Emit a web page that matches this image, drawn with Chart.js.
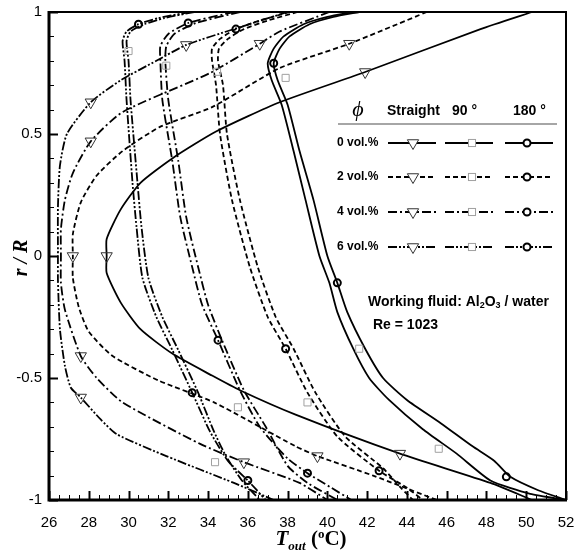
<!DOCTYPE html>
<html>
<head>
<meta charset="utf-8">
<title>Outlet temperature profiles</title>
<script src="https://cdn.jsdelivr.net/npm/chart.js@4.4.0/dist/chart.umd.min.js"></script>
<style>
  html, body { margin: 0; padding: 0; background: #fff; }
  #wrap { width: 575px; height: 550px; }
</style>
</head>
<body>
<div id="wrap"><canvas id="tempChart" width="575" height="550"></canvas></div>
<script>
// Outlet temperature profiles T_out vs r/R, Al2O3 / water, Re = 1023
// Each profile is a list of [T (degC), r/R] pairs

// Straight pipe
const straight0 = [[50.3,1],[47.7,0.93],[41.9,0.754],[37.6,0.63],[34.4,0.51],[32.2,0.40],[30.6,0.30],[29.6,0.19],[28.9,0.07],[28.9,0],[28.9,-0.07],[29.6,-0.19],[30.6,-0.30],[32.2,-0.40],[34.2,-0.49],[35.6,-0.55],[38.4,-0.65],[43.65,-0.81],[48.2,-0.93],[50.3,-1]];
const straight2 = [[45.0,1],[41.1,0.87],[37.6,0.77],[34.2,0.61],[31.6,0.53],[29.7,0.43],[28.4,0.33],[27.6,0.22],[27.2,0.09],[27.2,0],[27.2,-0.09],[27.5,-0.21],[28.0,-0.31],[29.2,-0.41],[31.5,-0.51],[34.3,-0.60],[38.4,-0.78],[39.5,-0.82],[42.3,-0.90],[45.5,-1]];
const straight4 = [[40.1,1],[37.6,0.92],[36.6,0.87],[34.1,0.75],[29.7,0.59],[28.1,0.47],[27.2,0.34],[26.8,0.23],[26.6,0.11],[26.6,0],[26.6,-0.11],[26.8,-0.22],[27.6,-0.41],[28.4,-0.50],[29.7,-0.60],[33.6,-0.77],[35.8,-0.845],[38.6,-0.93],[40.0,-1]];
const straight6 = [[38.0,1],[35.3,0.93],[32.9,0.865],[31.4,0.80],[29.6,0.72],[28.1,0.63],[26.9,0.50],[26.55,0.37],[26.45,0.2],[26.45,0],[26.45,-0.1],[26.55,-0.3],[26.8,-0.45],[27.1,-0.54],[27.6,-0.58],[28.6,-0.67],[29.4,-0.73],[31.9,-0.82],[35.3,-0.93],[37.3,-1]];

// 90 degree bend
const bend90_0 = [[41.3,1],[40.0,0.98],[38.8,0.95],[37.8,0.9],[37.3,0.85],[37.0,0.79],[37.2,0.72],[37.7,0.62],[38.3,0.43],[38.9,0.23],[39.6,0.0],[40.1,-0.11],[40.5,-0.23],[41.3,-0.38],[42.1,-0.50],[43.1,-0.59],[44.8,-0.71],[46.5,-0.81],[48.2,-0.92],[50.2,-0.975],[52.0,-1]];
const bend90_2 = [[38.5,1],[37.0,0.965],[35.8,0.93],[35.0,0.89],[34.55,0.85],[34.5,0.80],[34.75,0.70],[34.95,0.50],[35.6,0.23],[36.5,-0.045],[37.4,-0.25],[38.3,-0.38],[39.4,-0.56],[40.9,-0.74],[42.8,-0.87],[43.7,-0.95],[44.3,-1]];
const bend90_4 = [[35.6,1],[33.4,0.955],[32.3,0.91],[31.9,0.86],[31.85,0.80],[32.0,0.64],[32.5,0.39],[32.9,0.16],[33.5,-0.045],[34.0,-0.2],[34.7,-0.345],[35.8,-0.55],[36.9,-0.70],[38.0,-0.86],[39.0,-0.93],[40.5,-1]];
const bend90_6 = [[33.3,1],[31.8,0.975],[30.8,0.95],[30.1,0.92],[29.9,0.88],[30.0,0.80],[30.1,0.64],[30.45,0.30],[30.65,0.12],[31.0,-0.09],[31.7,-0.25],[32.5,-0.385],[33.5,-0.56],[34.3,-0.72],[34.9,-0.82],[35.7,-0.92],[36.6,-1]];

// 180 degree bend
const bend180_0 = [[41.6,1],[40.3,0.98],[39.1,0.95],[38.1,0.9],[37.6,0.85],[37.3,0.79],[37.5,0.72],[38.0,0.62],[38.6,0.43],[39.3,0.23],[40.0,0.0],[40.5,-0.11],[41.0,-0.23],[41.9,-0.38],[42.8,-0.50],[44.0,-0.59],[45.7,-0.685],[47.3,-0.78],[48.4,-0.84],[49.2,-0.905],[50.6,-0.96],[52.0,-1]];
const bend180_2 = [[38.1,1],[36.6,0.965],[35.4,0.93],[34.6,0.89],[34.2,0.85],[34.2,0.80],[34.4,0.70],[34.6,0.50],[35.2,0.23],[36.1,-0.045],[37.0,-0.25],[37.9,-0.38],[39.0,-0.56],[40.5,-0.74],[42.6,-0.88],[44.0,-0.95],[44.8,-1]];
const bend180_4 = [[35.3,1],[33.0,0.955],[32.0,0.91],[31.6,0.86],[31.6,0.80],[31.7,0.64],[32.2,0.39],[32.6,0.16],[33.2,-0.045],[33.7,-0.2],[34.5,-0.345],[35.6,-0.55],[36.6,-0.70],[38.0,-0.83],[39.0,-0.89],[40.2,-0.95],[41.2,-1]];
const bend180_6 = [[33.1,1],[31.5,0.975],[30.5,0.95],[29.9,0.92],[29.7,0.88],[29.8,0.80],[29.9,0.64],[30.2,0.30],[30.4,0.12],[30.7,-0.09],[31.4,-0.25],[32.2,-0.385],[33.2,-0.56],[34.1,-0.72],[35.0,-0.84],[36.0,-0.92],[36.9,-1]];

// Symbol positions (one symbol every few grid points)
const straightMarks = [[41.9,0.754],[28.9,0],[43.65,-0.81],[41.1,0.87],[27.2,0],[39.5,-0.82],[36.6,0.87],[28.1,0.47],[27.6,-0.41],[35.8,-0.845],[32.9,0.865],[28.1,0.63],[27.6,-0.58]];
const bend90Marks = [[37.9,0.73],[41.6,-0.38],[45.6,-0.79],[34.45,0.755],[39.0,-0.60],[31.9,0.78],[35.5,-0.62],[30.0,0.84],[34.35,-0.845]];
const bend180Marks = [[37.3,0.79],[40.5,-0.11],[49.0,-0.905],[35.4,0.93],[37.9,-0.38],[42.6,-0.88],[33.0,0.955],[34.5,-0.345],[39.0,-0.89],[30.5,0.95],[33.2,-0.56],[36.0,-0.92]];

const concentrations = ['0 vol.%', '2 vol.%', '4 vol.%', '6 vol.%'];
const xTicks = { min: 26, max: 52, step: 2, minor: 0.5 };
const yTicks = { min: -1, max: 1, step: 0.5, minor: 0.1 };

// line style per concentration
const dashes = [[], [5, 3], [9, 3, 2, 3], [9, 2, 2, 2, 2, 2]];

const FONT = "'Liberation Sans', Arial, sans-serif";
const SERIF = "'Liberation Serif', 'Times New Roman', serif";

Chart.defaults.font.family = FONT;
Chart.defaults.color = '#000';

const toXY = (pts) => pts.map(p => ({ x: p[0], y: p[1] }));

function profile(pts, i) {
    return {
        data: toXY(pts),
        showLine: true,
        borderColor: '#000',
        borderWidth: 1.8,
        borderDash: dashes[i],
        pointRadius: 0,
        tension: 0.2,
        fill: false,
        order: 2
    };
}

function symbols(pts, style) {
    return Object.assign({
        data: toXY(pts),
        showLine: false,
        backgroundColor: 'rgba(255,255,255,0)',
        order: 0
    }, style);
}

const triStyle = { pointStyle: 'triangle', rotation: 180, pointRadius: 6.5, borderColor: '#333', borderWidth: 1 };
const sqStyle = { pointStyle: 'rect', pointRadius: 5, borderColor: '#a0a0a0', borderWidth: 1 };
const circStyle = { pointStyle: 'circle', pointRadius: 3.5, borderColor: '#000', borderWidth: 2 };

const datasets = [];
[straight0, straight2, straight4, straight6].forEach((s, i) => datasets.push(profile(s, i)));
[bend90_0, bend90_2, bend90_4, bend90_6].forEach((s, i) => datasets.push(profile(s, i)));
[bend180_0, bend180_2, bend180_4, bend180_6].forEach((s, i) => datasets.push(profile(s, i)));
datasets.push(symbols(straightMarks, triStyle));
datasets.push(symbols(bend90Marks, sqStyle));
datasets.push(symbols(bend180Marks, circStyle));

// marker helpers for the legend table
function drawMarker(ctx, kind, x, y) {
    ctx.save();
    ctx.setLineDash([]);
    ctx.fillStyle = '#fff';
    if (kind === 'tri') {
        const r = triStyle.pointRadius;
        ctx.strokeStyle = triStyle.borderColor;
        ctx.lineWidth = 1;
        ctx.beginPath();
        ctx.moveTo(x, y + r);
        ctx.lineTo(x - r * 0.866, y - r / 2);
        ctx.lineTo(x + r * 0.866, y - r / 2);
        ctx.closePath();
        ctx.fill();
        ctx.stroke();
    } else if (kind === 'sq') {
        const h = sqStyle.pointRadius / Math.SQRT2;
        ctx.strokeStyle = sqStyle.borderColor;
        ctx.lineWidth = 1;
        ctx.fillRect(x - h, y - h, 2 * h, 2 * h);
        ctx.strokeRect(x - h, y - h, 2 * h, 2 * h);
    } else {
        ctx.strokeStyle = '#000';
        ctx.lineWidth = 2;
        ctx.beginPath();
        ctx.arc(x, y, circStyle.pointRadius, 0, Math.PI * 2);
        ctx.fill();
        ctx.stroke();
    }
    ctx.restore();
}

// frame, inward ticks, legend table, notes and axis titles
const decorations = {
    id: 'decorations',
    afterDatasetsDraw(chart) {
        const { ctx, chartArea: a, scales: { x, y } } = chart;
        ctx.save();
        ctx.strokeStyle = '#000';
        ctx.setLineDash([]);

        // inward ticks on bottom and left axes
        for (let v = xTicks.min; v <= xTicks.max + 1e-9; v += xTicks.minor) {
            const major = Math.abs(v / xTicks.step - Math.round(v / xTicks.step)) < 1e-6;
            const px = Math.round(x.getPixelForValue(v)) + 0.5;
            ctx.lineWidth = major ? 2 : 1;
            ctx.beginPath();
            ctx.moveTo(px, a.bottom);
            ctx.lineTo(px, a.bottom - (major ? 9 : 5));
            ctx.stroke();
        }
        for (let v = yTicks.min; v <= yTicks.max + 1e-9; v += yTicks.minor) {
            const major = Math.abs(v / yTicks.step - Math.round(v / yTicks.step)) < 1e-6;
            const py = Math.round(y.getPixelForValue(v)) + 0.5;
            ctx.lineWidth = major ? 2 : 1;
            ctx.beginPath();
            ctx.moveTo(a.left, py);
            ctx.lineTo(a.left + (major ? 9 : 5), py);
            ctx.stroke();
        }

        // frame
        ctx.lineWidth = 2;
        ctx.strokeRect(a.left, a.top, a.right - a.left, a.bottom - a.top);
        ctx.lineWidth = 3;
        ctx.beginPath();
        ctx.moveTo(a.left, a.top - 1);
        ctx.lineTo(a.left, a.bottom);
        ctx.lineTo(a.right + 1, a.bottom);
        ctx.stroke();
        ctx.restore();
    },
    afterDraw(chart) {
        const ctx = chart.ctx;
        ctx.save();
        ctx.fillStyle = '#000';
        ctx.textBaseline = 'middle';

        // legend table
        ctx.font = 'italic 22px ' + SERIF;
        ctx.textAlign = 'center';
        ctx.fillText('\u03d5', 358, 110);
        ctx.font = 'bold 14px ' + FONT;
        ctx.textAlign = 'left';
        ctx.fillText('Straight', 387, 111);
        ctx.fillText('90 \u00b0', 452, 111);
        ctx.fillText('180 \u00b0', 513, 111);
        ctx.strokeStyle = '#888';
        ctx.lineWidth = 1.5;
        ctx.beginPath();
        ctx.moveTo(338, 124);
        ctx.lineTo(557, 124);
        ctx.stroke();

        const rowY = [143, 177, 212, 247];
        const cols = [[388, 436, 413, 'tri'], [445, 493, 472, 'sq'], [505, 553, 527, 'circ']];
        ctx.font = 'bold 12px ' + FONT;
        concentrations.forEach((label, i) => {
            ctx.fillStyle = '#000';
            ctx.fillText(label, 337, rowY[i]);
            cols.forEach(c => {
                ctx.strokeStyle = '#000';
                ctx.lineWidth = 1.8;
                ctx.setLineDash(dashes[i]);
                ctx.beginPath();
                ctx.moveTo(c[0], rowY[i]);
                ctx.lineTo(c[1], rowY[i]);
                ctx.stroke();
                drawMarker(ctx, c[3], c[2], rowY[i]);
            });
        });
        ctx.setLineDash([]);

        // notes
        ctx.fillStyle = '#000';
        let tx = 368;
        const ty = 302;
        const seg = (txt, size, dy) => {
            ctx.font = 'bold ' + size + 'px ' + FONT;
            ctx.fillText(txt, tx, ty + dy);
            tx += ctx.measureText(txt).width;
        };
        seg('Working fluid: Al', 14, 0);
        seg('2', 9, 4);
        seg('O', 14, 0);
        seg('3', 9, 4);
        seg(' / water', 14, 0);
        ctx.font = 'bold 14px ' + FONT;
        ctx.fillText('Re = 1023', 373, 325);

        // x axis title: T_out (oC)
        const parts = [
            ['T', 'bold italic 21px ', 0],
            ['out', 'bold italic 13px ', 5],
            [' (', 'bold 21px ', 0],
            ['o', 'bold 13px ', -7],
            ['C)', 'bold 21px ', 0]
        ];
        ctx.textBaseline = 'alphabetic';
        let w = 0;
        parts.forEach(p => { ctx.font = p[1] + SERIF; w += ctx.measureText(p[0]).width; });
        let px = 311 - w / 2;
        parts.forEach(p => {
            ctx.font = p[1] + SERIF;
            ctx.fillText(p[0], px, 545 + p[2]);
            px += ctx.measureText(p[0]).width;
        });

        // y axis title
        ctx.translate(22, 258);
        ctx.rotate(-Math.PI / 2);
        ctx.textAlign = 'center';
        ctx.textBaseline = 'middle';
        ctx.font = 'bold italic 20px ' + SERIF;
        ctx.fillText('r / R', 0, 0);
        ctx.restore();
    }
};

new Chart(document.getElementById('tempChart'), {
    type: 'scatter',
    data: { datasets: datasets },
    options: {
        responsive: false,
        devicePixelRatio: 1,
        animation: false,
        layout: { padding: { left: 0, top: 12, right: 9, bottom: 0 } },
        plugins: {
            legend: { display: false },
            tooltip: { enabled: false }
        },
        scales: {
            x: {
                type: 'linear',
                min: xTicks.min,
                max: xTicks.max,
                afterFit: (s) => { s.height = 50; s.paddingLeft = 0; s.paddingRight = 0; },
                grid: { display: false, drawTicks: false },
                border: { display: false },
                ticks: { stepSize: xTicks.step, padding: 14, font: { size: 15 }, color: '#000' }
            },
            y: {
                type: 'linear',
                min: yTicks.min,
                max: yTicks.max,
                afterFit: (s) => { s.width = 49; s.paddingTop = 0; s.paddingBottom = 0; },
                grid: { display: false, drawTicks: false },
                border: { display: false },
                ticks: {
                    stepSize: yTicks.step,
                    padding: 7,
                    font: { size: 15 },
                    color: '#000',
                    callback: (v) => String(Math.round(v * 10) / 10)
                }
            }
        }
    },
    plugins: [decorations]
});
</script>
</body>
</html>
